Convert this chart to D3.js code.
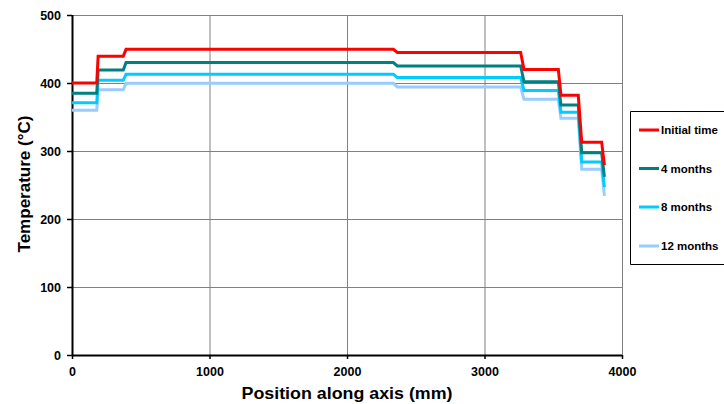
<!DOCTYPE html>
<html>
<head>
<meta charset="utf-8">
<script src="https://cdn.jsdelivr.net/npm/d3@7"></script>
<style>
  html, body { margin: 0; padding: 0; background: #fff; overflow: hidden; }
  svg { display: block; font-family: Arial, "Liberation Sans", sans-serif; }
</style>
</head>
<body>
<svg id="chart" width="724" height="404"></svg>
<script>
// Positions along the axis (mm) where the temperature profile changes level
const positionMm = [0, 180, 190, 373, 393, 2337, 2366, 3263, 3287, 3537, 3556, 3682, 3707, 3852, 3872];

// Temperature (°C) at each position, one array per time
const initialTime = [400, 400, 439.5, 439.5, 449.5, 449.5, 445, 445, 420, 420, 382, 382, 313, 313, 279];
const months4     = [385, 385, 419, 419, 430, 430, 425, 425, 402, 402, 367.5, 367.5, 297.5, 297.5, 262];
const months8     = [371, 371, 404, 404, 413, 413, 408, 408, 389, 389, 357, 357, 284, 284, 247];
const months12    = [360, 360, 390, 390, 399.5, 399.5, 394, 394, 376, 376, 348, 348, 273, 273, 234];

const seriesNames  = ["Initial time", "4 months", "8 months", "12 months"];
const seriesValues = [initialTime, months4, months8, months12];
const seriesColors = ["#ff0000", "#008080", "#00ccff", "#99ccff"];

const xTicks = [0, 1000, 2000, 3000, 4000];
const yTicks = [0, 100, 200, 300, 400, 500];

const svg = d3.select("#chart");
const x = d3.scaleLinear().domain([0, 4000]).range([72, 622]);
const y = d3.scaleLinear().domain([0, 500]).range([355, 15]);

// Gridlines
svg.append("g").selectAll("line").data(yTicks.filter(d => d > 0)).join("line")
  .attr("x1", x(0)).attr("x2", x(4000))
  .attr("y1", d => y(d) + 0.5).attr("y2", d => y(d) + 0.5)
  .attr("stroke", "#808080").attr("stroke-width", 1);
svg.append("g").selectAll("line").data(xTicks.filter(d => d > 0)).join("line")
  .attr("x1", d => x(d) + 0.5).attr("x2", d => x(d) + 0.5)
  .attr("y1", y(0)).attr("y2", y(500))
  .attr("stroke", "#808080").attr("stroke-width", 1);

// Axes
const xAxis = svg.append("g").attr("transform", `translate(0,${y(0)})`)
  .call(d3.axisBottom(x).tickValues(xTicks).tickFormat(d3.format("d")).tickSize(4).tickPadding(8));
const yAxis = svg.append("g").attr("transform", `translate(${x(0)},0)`)
  .call(d3.axisLeft(y).tickValues(yTicks).tickFormat(d3.format("d")).tickSize(5).tickPadding(6));
[xAxis, yAxis].forEach(g => {
  g.select(".domain").attr("stroke", "#000").attr("stroke-width", 2);
  g.selectAll(".tick line").attr("stroke", "#000").attr("stroke-width", 1.5);
  g.selectAll(".tick text").attr("fill", "#000")
    .style("font-family", "Arial, 'Liberation Sans', sans-serif")
    .style("font-size", "12.5px").style("font-weight", "bold");
});
xAxis.select(".domain").attr("d", `M${x(0)},0.5H${x(4000)}`);
yAxis.select(".domain").attr("d", `M0.5,${y(0)}V${y(500)}`);

// Temperature profiles (earlier times drawn on top)
const line = d3.line().x(d => x(d[0])).y(d => y(d[1]));
seriesValues.slice().reverse().forEach((vals, i) => {
  const k = seriesValues.length - 1 - i;
  svg.append("path")
    .datum(positionMm.map((p, j) => [p, vals[j]]))
    .attr("fill", "none")
    .attr("stroke", seriesColors[k])
    .attr("stroke-width", 3)
    .attr("stroke-linejoin", "miter")
    .attr("d", line);
});

// Axis titles
svg.append("text")
  .attr("x", 347).attr("y", 399)
  .attr("text-anchor", "middle")
  .attr("textLength", 211).attr("lengthAdjust", "spacingAndGlyphs")
  .style("font-size", "16px").style("font-weight", "bold")
  .text("Position along axis (mm)");
svg.append("text")
  .attr("transform", "translate(30,184) rotate(-90)")
  .attr("text-anchor", "middle")
  .attr("textLength", 137).attr("lengthAdjust", "spacingAndGlyphs")
  .style("font-size", "16px").style("font-weight", "bold")
  .text("Temperature (°C)");

// Legend: the box runs past the right edge of the page, so only three sides show
const legend = svg.append("g");
legend.append("rect")
  .attr("x", 630.5).attr("y", 111.5).attr("width", 100).attr("height", 153)
  .attr("fill", "#fff").attr("stroke", "none");
legend.append("path")
  .attr("d", "M730,111.5H630.5V264.5H730")
  .attr("fill", "none").attr("stroke", "#000").attr("stroke-width", 1);
const legendY = [130, 168.5, 207, 246];
seriesNames.forEach((name, i) => {
  legend.append("line")
    .attr("x1", 639).attr("x2", 659)
    .attr("y1", legendY[i]).attr("y2", legendY[i])
    .attr("stroke", seriesColors[i]).attr("stroke-width", 3);
  legend.append("text")
    .attr("x", 661).attr("y", legendY[i] + 4)
    .style("font-size", "11.5px").style("font-weight", "bold")
    .text(name);
});
</script>
</body>
</html>
